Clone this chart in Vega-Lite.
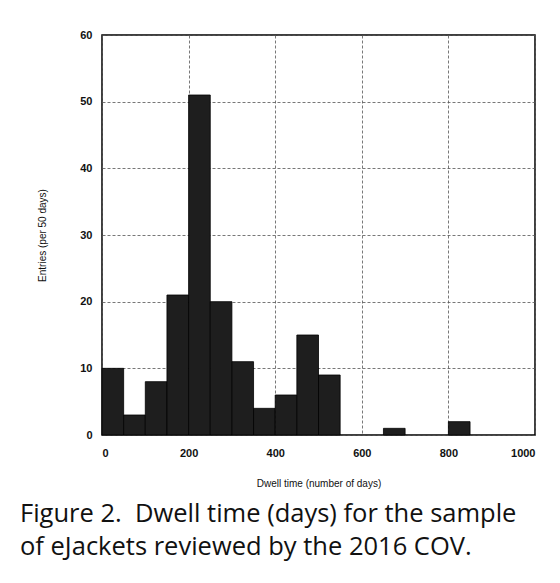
{
  "$schema": "https://vega.github.io/schema/vega-lite/v6.json",
  "autosize": "none",
  "width": 433,
  "height": 400,
  "padding": {"left": 102, "top": 35, "right": 25, "bottom": 148},
  "background": "white",
  "title": {
    "text": ["Figure 2.\u00a0 Dwell time (days) for the sample", "of eJackets reviewed by the 2016 COV."],
    "orient": "bottom",
    "anchor": "start",
    "frame": "group",
    "dx": -82,
    "offset": 14,
    "font": "Open Sans",
    "fontSize": 25.5,
    "fontWeight": "normal",
    "lineHeight": 33,
    "color": "#111"
  },
  "data": {
    "values": [
      {"start": 0, "end": 50, "count": 10},
      {"start": 50, "end": 100, "count": 3},
      {"start": 100, "end": 150, "count": 8},
      {"start": 150, "end": 200, "count": 21},
      {"start": 200, "end": 250, "count": 51},
      {"start": 250, "end": 300, "count": 20},
      {"start": 300, "end": 350, "count": 11},
      {"start": 350, "end": 400, "count": 4},
      {"start": 400, "end": 450, "count": 6},
      {"start": 450, "end": 500, "count": 15},
      {"start": 500, "end": 550, "count": 9},
      {"start": 650, "end": 700, "count": 1},
      {"start": 800, "end": 850, "count": 2}
    ]
  },
  "mark": {"type": "bar", "fill": "#1e1e1e", "stroke": "#000", "strokeWidth": 0.8},
  "encoding": {
    "x": {
      "field": "start",
      "type": "quantitative",
      "title": "Dwell time (number of days)",
      "scale": {"domain": [0, 1000], "nice": false},
      "axis": {"values": [0, 200, 400, 600, 800, 1000], "format": "d", "labelPadding": 12, "titlePadding": 20}
    },
    "x2": {"field": "end"},
    "y": {
      "field": "count",
      "type": "quantitative",
      "title": "Entries (per 50 days)",
      "scale": {"domain": [0, 60], "nice": false},
      "axis": {"values": [0, 10, 20, 30, 40, 50, 60], "labelPadding": 10, "titlePadding": 32}
    },
    "y2": {"datum": 0}
  },
  "config": {
    "view": {"stroke": "#000", "strokeWidth": 1.5},
    "axis": {
      "domain": false,
      "ticks": false,
      "grid": true,
      "gridColor": "#555",
      "gridDash": [3, 2],
      "gridWidth": 0.8,
      "labelFont": "Liberation Sans",
      "labelFontSize": 11,
      "labelFontWeight": "bold",
      "labelColor": "#111",
      "titleFont": "Liberation Sans",
      "titleFontSize": 10,
      "titleFontWeight": "normal",
      "titleColor": "#111"
    }
  }
}
